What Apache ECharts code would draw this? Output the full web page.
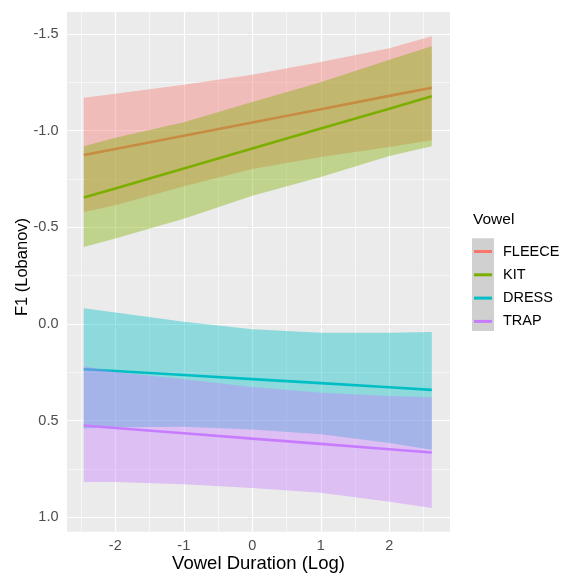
<!DOCTYPE html>
<html>
<head>
<meta charset="utf-8">
<script src="https://cdn.jsdelivr.net/npm/echarts@6/dist/echarts.min.js"></script>
<style>
  html, body { margin: 0; padding: 0; background: #fff; }
  #chart { width: 567px; height: 573px; }
</style>
</head>
<body>
<div id="chart"></div>
<script>
const durations = [-2.46, -2, -1, 0, 1, 2, 2.62];

const vowels = ['FLEECE', 'KIT', 'DRESS', 'TRAP'];
const colors = ['#F8766D', '#7CAE00', '#00BFC4', '#C77CFF'];

const fleeceFit  = [-0.874, -0.905, -0.974, -1.042, -1.111, -1.180, -1.222];
const fleeceLow  = [-1.170, -1.191, -1.238, -1.290, -1.355, -1.427, -1.488];
const fleeceHigh = [-0.579, -0.614, -0.712, -0.802, -0.864, -0.915, -0.950];

const kitFit  = [-0.654, -0.701, -0.805, -0.908, -1.011, -1.114, -1.178];
const kitLow  = [-0.920, -0.963, -1.044, -1.148, -1.251, -1.367, -1.437];
const kitHigh = [-0.398, -0.442, -0.545, -0.663, -0.760, -0.869, -0.920];

const dressFit  = [0.234, 0.243, 0.264, 0.285, 0.306, 0.327, 0.341];
const dressLow  = [-0.081, -0.059, -0.012, 0.027, 0.045, 0.045, 0.041];
const dressHigh = [0.541, 0.534, 0.532, 0.546, 0.570, 0.615, 0.650];

const trapFit  = [0.525, 0.538, 0.565, 0.593, 0.620, 0.648, 0.665];
const trapLow  = [0.218, 0.248, 0.286, 0.326, 0.356, 0.372, 0.379];
const trapHigh = [0.818, 0.817, 0.829, 0.848, 0.873, 0.920, 0.952];

const xTicks = [-2, -1, 0, 1, 2];
const xMinor = [-2.5, -1.5, -0.5, 0.5, 1.5, 2.5];
const yTicks = [-1.5, -1.0, -0.5, 0.0, 0.5, 1.0];
const yMinor = [-1.25, -0.75, -0.25, 0.25, 0.75];

const xMin = -2.705, xMax = 2.886;
const yMin = -1.614, yMax = 1.0745;

const fits = [fleeceFit, kitFit, dressFit, trapFit];
const lows = [fleeceLow, kitLow, dressLow, trapLow];
const highs = [fleeceHigh, kitHigh, dressHigh, trapHigh];

const font = "'Liberation Sans', Arial, Helvetica, sans-serif";

function gridLines(xs, ys) {
  const out = [];
  xs.forEach(v => out.push({ coords: [[v, yMin], [v, yMax]] }));
  ys.forEach(v => out.push({ coords: [[xMin, v], [xMax, v]] }));
  return out;
}

const series = [
  {
    type: 'lines', coordinateSystem: 'cartesian2d', silent: true, z: 0,
    lineStyle: { color: '#ffffff', width: 0.6, opacity: 1 },
    data: gridLines(xMinor, yMinor)
  },
  {
    type: 'lines', coordinateSystem: 'cartesian2d', silent: true, z: 1,
    lineStyle: { color: '#ffffff', width: 1.2, opacity: 1 },
    data: gridLines(xTicks, yTicks)
  }
];

// ribbon then line per group, like geom_smooth draws them
let z = 2;
vowels.forEach((name, k) => {
  series.push({
    type: 'custom', name: name + ' band', silent: true, z: z,
    data: durations.map((x, i) => [x, lows[k][i], highs[k][i]]),
    encode: { x: 0, y: [1, 2] },
    renderItem: (params, api) => {
      if (params.dataIndex !== 0) return null;
      const top = durations.map((x, i) => api.coord([x, highs[k][i]]));
      const bottom = durations.map((x, i) => api.coord([x, lows[k][i]])).reverse();
      return {
        type: 'polygon',
        shape: { points: top.concat(bottom) },
        style: { fill: colors[k], opacity: 0.4 }
      };
    }
  });
  series.push({
    type: 'line', name: name,
    data: durations.map((x, i) => [x, fits[k][i]]),
    symbol: 'none', lineStyle: { color: colors[k], width: 2.6 },
    itemStyle: { color: colors[k] }, silent: true, z: z + 1
  });
  z += 2;
});

const chart = echarts.init(document.getElementById('chart'));
chart.setOption({
  animation: false,
  textStyle: { fontFamily: font },
  grid: {
    left: 67, right: 117, top: 12, bottom: 41.3,
    show: true, backgroundColor: '#EBEBEB', borderWidth: 0
  },
  xAxis: {
    type: 'value', min: xMin, max: xMax,
    axisLine: { show: false },
    splitLine: { show: false },
    axisTick: { customValues: xTicks, length: 4.5, lineStyle: { color: '#333333', width: 1.1 } },
    axisLabel: {
      customValues: xTicks, margin: 7, color: '#4D4D4D', fontSize: 14.5, fontFamily: font,
      formatter: v => String(v)
    }
  },
  yAxis: {
    type: 'value', inverse: true, min: yMin, max: yMax,
    axisLine: { show: false },
    splitLine: { show: false },
    axisTick: { customValues: yTicks, length: 4.5, lineStyle: { color: '#333333', width: 1.1 } },
    axisLabel: {
      customValues: yTicks, margin: 8.5, color: '#4D4D4D', fontSize: 14.5, fontFamily: font,
      formatter: v => v.toFixed(1)
    }
  },
  legend: {
    data: vowels,
    orient: 'vertical',
    left: 474, top: 244,
    padding: 0,
    icon: 'rect',
    itemWidth: 18, itemHeight: 3, itemGap: 8.3,
    selectedMode: false,
    textStyle: { fontSize: 14.5, lineHeight: 14, color: '#000', fontFamily: font, padding: [0, 0, 0, 6] }
  },
  graphic: [
    {
      type: 'rect', left: 472, top: 238.3, z: -1,
      shape: { width: 22, height: 92.7 },
      style: { fill: '#D0D0D0' }
    },
    {
      type: 'text', left: 473, top: 212,
      style: { text: 'Vowel', fontSize: 15.5, fill: '#000', fontFamily: font }
    },
    {
      type: 'text', x: 22, y: 267, rotation: Math.PI / 2,
      style: { text: 'F1 (Lobanov)', fontSize: 16.5, fill: '#000', fontFamily: font, align: 'center', verticalAlign: 'middle' }
    },
    {
      type: 'text', x: 258.5, y: 563.5,
      style: { text: 'Vowel Duration (Log)', fontSize: 18.5, fill: '#000', fontFamily: font, align: 'center', verticalAlign: 'middle' }
    }
  ],
  series: series
});
</script>
</body>
</html>
